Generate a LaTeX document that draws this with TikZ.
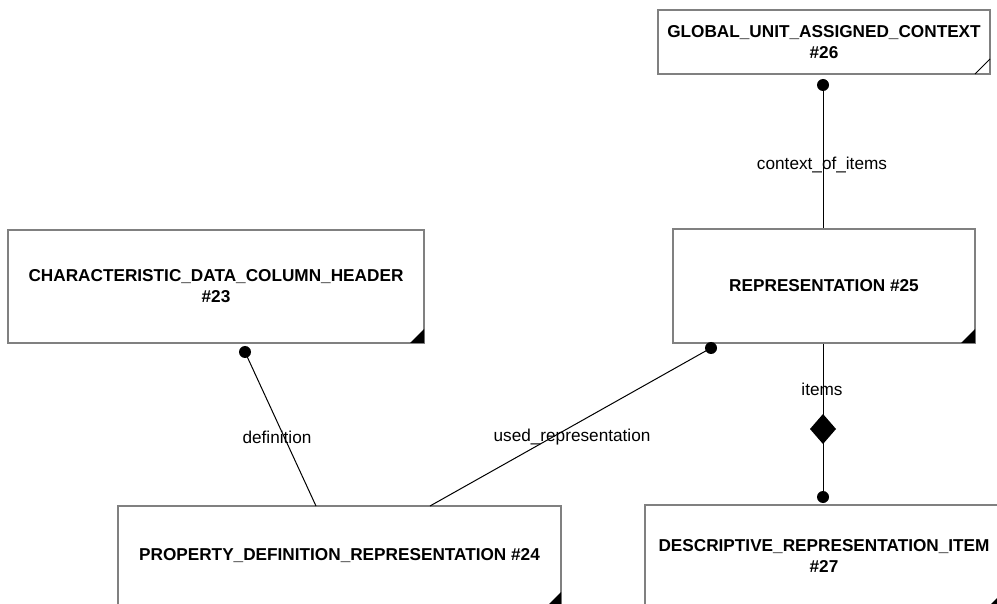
\documentclass[tikz,border=0pt]{standalone}
\usepackage{fontspec}
\setmainfont{Liberation Sans}
\usetikzlibrary{calc}
\begin{document}
\begin{tikzpicture}[x=1pt,y=-1pt,
  ent/.style={draw=black!50,line width=2pt,fill=white,inner sep=0pt,align=center,
    font=\fontsize{17.2}{21}\selectfont\bfseries},
  lbl/.style={font=\fontsize{17.2}{20}\selectfont,inner sep=0pt},
  conn/.style={line width=1pt,black},
  dotm/.style={circle,fill=black,inner sep=0pt,minimum size=12pt}]
\clip (0,0) rectangle (997,604);
\useasboundingbox (0,0) rectangle (997,604);
% entities
\node[ent,minimum width=332pt,minimum height=64pt] (n26) at (824,42) {GLOBAL\_UNIT\_ASSIGNED\_CONTEXT\\\#26};
\node[ent,minimum width=416pt,minimum height=113pt] (n23) at (216,286.5) {CHARACTERISTIC\_DATA\_COLUMN\_HEADER\\\#23};
\node[ent,minimum width=302pt,minimum height=114pt] (n25) at (824,286) {REPRESENTATION \#25};
\node[ent,minimum width=443pt,minimum height=100pt] (n24) at (339.5,556) {PROPERTY\_DEFINITION\_REPRESENTATION \#24};
\node[ent,minimum width=358pt,minimum height=101pt] (n27) at (824,555.5) {DESCRIPTIVE\_REPRESENTATION\_ITEM\\\#27};
% corner marks
\foreach \n in {n23,n25,n24,n27}{
  \fill[black] ($(\n.south east)+(-1,-1)$) -- ++(-14,0) -- ++(14,-14) -- cycle;
}
\draw[black,line width=1pt] ($(n26.south east)+(-1,-1)$) ++(-15,0) -- ++(15,-15);
% connector points
\coordinate (d26) at (823,85);
\coordinate (d23) at (245,352);
\coordinate (e24a) at (316,506);
\coordinate (d25) at (711,348);
\coordinate (e24b) at (430,506);
\coordinate (d27) at (823,497);
\coordinate (dia) at (823,429);
% connectors
\draw[conn] (d26) -- (d26 |- n25.north);
\draw[conn] (d23) -- (e24a);
\draw[conn] (d25) -- (e24b);
\draw[conn] (d27 |- n25.south) -- (d27);
\fill[black] (dia) ++(0,-15) -- ++(13,15) -- ++(-13,15) -- ++(-13,-15) -- cycle;
\node[dotm] at (d26) {};
\node[dotm] at (d23) {};
\node[dotm] at (d25) {};
\node[dotm] at (d27) {};
% labels
\node[lbl] (l1) at (822,165) {context\_of\_items};
\node[lbl] (l2) at (822,389) {items};
\node[lbl] (l3) at (277,437) {definition};
\node[lbl] (l4) at (572,437) {used\_representation};
\end{tikzpicture}
\end{document}
